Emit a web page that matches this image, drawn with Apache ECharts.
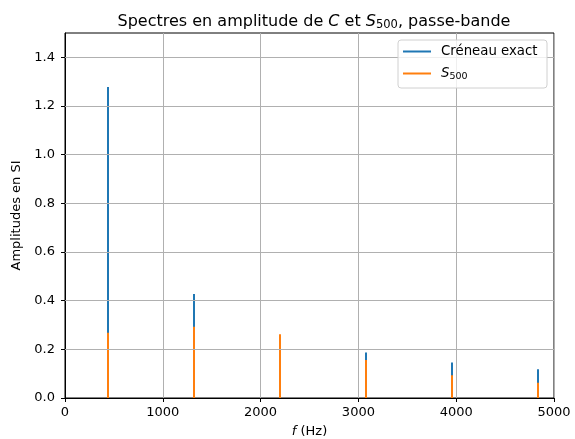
<!DOCTYPE html>
<html><head><meta charset="utf-8">
<script src="https://cdn.jsdelivr.net/npm/echarts@6/dist/echarts.min.js"></script>
<style>html,body{margin:0;padding:0;background:#fff}#c{width:575px;height:439px}</style>
</head><body><div id="c"></div>
<script>
const freqs = [440, 1320, 2200, 3080, 3960, 4840];
const creneau = [1.278, 0.427, 0.255, 0.187, 0.146, 0.118];
const s500 = [0.268, 0.293, 0.262, 0.156, 0.094, 0.063];
const yTicks = [0, 0.2, 0.4, 0.6, 0.8, 1.0, 1.2, 1.4];
const xTicks = [0, 1000, 2000, 3000, 4000, 5000];
const seriesNames = ['Créneau exact', 'S500'];
const colors = ['#1f77b4', '#ff7f0e'];

const font = 'DejaVu Sans';
function stem(color) {
  return function(params, api) {
    const top = api.coord([api.value(0), api.value(1)]);
    const base = api.coord([api.value(0), 0]);
    return {type: 'rect', shape: {x: Math.round(top[0]) - 1, y: top[1], width: 2, height: base[1] - top[1]},
            style: {fill: color}};
  };
}
const lf = 13.3;
const chart = echarts.init(document.getElementById('c'));
chart.setOption({
  animation: false,
  textStyle: {fontFamily: font},
  title: {
    text: 'Spectres en amplitude de {i|C} et {i|S}{s|500}, passe-bande',
    left: 309, textAlign: 'center', top: 8,
    textStyle: {fontFamily: font, fontSize: 16, fontWeight: 'normal', color: '#000',
      rich: {i: {fontFamily: font, fontSize: 16, fontStyle: 'italic', color:'#000'},
             s: {fontFamily: font, fontSize: 11.5, color:'#000', padding:[6,0,0,0]}}}
  },
  grid: {left: 65, right: 21, top: 33, bottom: 41, outerBoundsMode: 'none', show: true, borderColor: '#000', borderWidth: 1, backgroundColor: 'transparent'},
  graphic: [
    {type: 'rect', z: 100, shape: {x: 398, y: 40, width: 149, height: 48, r: 3},
     style: {fill: 'rgba(255,255,255,0.8)', stroke: '#d0d0d0', lineWidth: 1}},
    {type: 'line', z: 101, shape: {x1: 403, y1: 51.5, x2: 431, y2: 51.5}, style: {stroke: colors[0], lineWidth: 2}},
    {type: 'line', z: 101, shape: {x1: 403, y1: 73.5, x2: 431, y2: 73.5}, style: {stroke: colors[1], lineWidth: 2}},
    {type: 'text', z: 101, x: 441, y: 52, style: {text: seriesNames[0], font: lf + 'px ' + font, fill: '#000', verticalAlign: 'middle'}},
    {type: 'text', z: 101, x: 441, y: 74, style: {text: '{i|S}{s|500}', fill: '#000', verticalAlign: 'middle',
      rich: {i: {fontFamily: font, fontSize: lf, fontStyle: 'italic', fill: '#000'},
             s: {fontFamily: font, fontSize: 9.5, fill: '#000', padding: [6, 0, 0, 0]}}}}
  ],
  xAxis: {
    type: 'value', min: 0, max: 5000, interval: 1000,
    name: '{i|f} (Hz)', nameLocation: 'middle', nameGap: 27,
    nameTextStyle: {fontFamily: font, fontSize: 13, color: '#000', rich: {i: {fontFamily: font, fontSize: 13, fontStyle: 'italic', color:'#000'}}},
    axisLine: {lineStyle: {color: '#000', width: 1}},
    axisTick: {show: true, inside: false, length: 4, lineStyle: {color: '#000'}, customValues: xTicks},
    axisLabel: {fontFamily: font, fontSize: 13, color: '#000', margin: 8, customValues: xTicks,
      formatter: v => String(v)},
    splitLine: {show: true, lineStyle: {color: '#b0b0b0', width: 1}}
  },
  yAxis: {
    type: 'value', min: 0, max: 1.5, interval: 0.1,
    name: 'Amplitudes en SI', nameLocation: 'middle', nameGap: 40,
    nameTextStyle: {fontFamily: font, fontSize: 13, color: '#000'},
    axisLine: {show: true, lineStyle: {color: '#000', width: 1}},
    axisTick: {show: true, inside: false, length: 4, lineStyle: {color: '#000'}, customValues: yTicks},
    axisLabel: {fontFamily: font, fontSize: 13, color: '#000', margin: 10, customValues: yTicks,
      formatter: v => v.toFixed(1)},
    splitLine: {show: false}
  },
  series: [
    {name: 'grid', type: 'line', data: [], silent: true, z: 0,
     markLine: {silent: true, symbol: 'none', label: {show: false},
       lineStyle: {color: '#b0b0b0', width: 1, type: 'solid'},
       data: yTicks.slice(1).map(v => ({yAxis: v}))}},
    {name: seriesNames[0], type: 'custom', itemStyle: {color: colors[0]}, renderItem: stem(colors[0]),
     encode: {x: 0, y: 1}, data: freqs.map((f, i) => [f, creneau[i]]), z: 3},
    {name: seriesNames[1], type: 'custom', itemStyle: {color: colors[1]}, renderItem: stem(colors[1]),
     encode: {x: 0, y: 1}, data: freqs.map((f, i) => [f, s500[i]]), z: 4}
  ]
});
</script></body></html>
